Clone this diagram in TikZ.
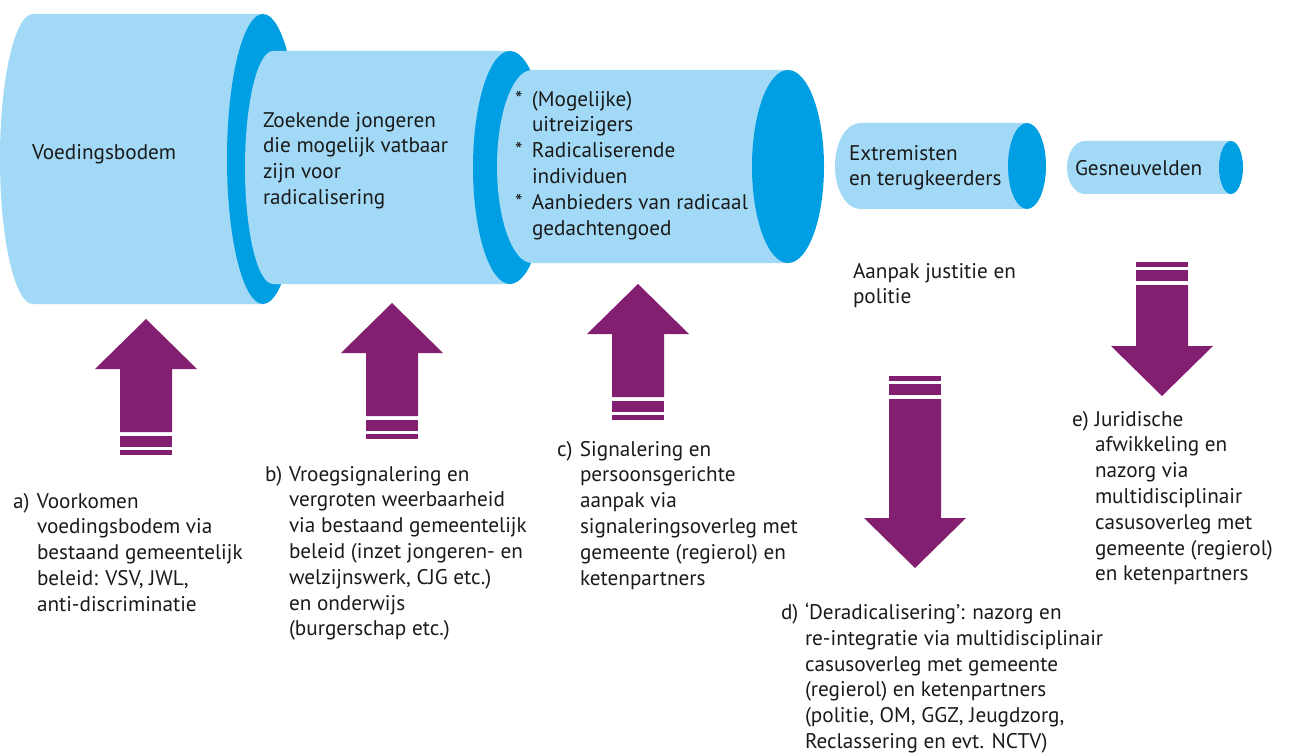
\documentclass[tikz,border=0pt]{standalone}
\usepackage{fontspec}
\setmainfont{PT Sans}
\definecolor{lblue}{RGB}{162,217,246}
\definecolor{dblue}{RGB}{0,159,227}
\definecolor{purp}{RGB}{130,31,112}
\definecolor{txt}{RGB}{26,26,26}
\newcommand\mycyl[6]{% cxL, cxR, cy, ry, rxL, rxR
  \fill[lblue] (#1,#3-#4) -- (#2,#3-#4) -- (#2,#3+#4) -- (#1,#3+#4)
    arc[start angle=90,end angle=270,x radius=#5,y radius=#4] -- cycle;
  \fill[dblue] (#2,#3) ellipse[x radius=#6,y radius=#4];}
\newcommand\myuparr[2]{% cx, tip
  \fill[purp] (#1,#2) -- (#1+51,#2+50) -- (#1+26,#2+50) -- (#1+26,#2+113)
    -- (#1-26,#2+113) -- (#1-26,#2+50) -- (#1-51,#2+50) -- cycle;
  \fill[purp] (#1-26,#2+117) rectangle (#1+26,#2+128);
  \fill[purp] (#1-26,#2+131) rectangle (#1+26,#2+136);}
\newcommand\mydnarr[3]{% cx, stripe top, head base
  \fill[purp] (#1-26,#2) rectangle (#1+26,#2+5);
  \fill[purp] (#1-26,#2+8) rectangle (#1+26,#2+19);
  \fill[purp] (#1-26,#2+23) -- (#1+26,#2+23) -- (#1+26,#3) -- (#1+51,#3)
    -- (#1,#3+50) -- (#1-51,#3) -- (#1-26,#3) -- cycle;}
\newcommand\lab[2]{\makebox[#1][l]{#2}}
\begin{document}
\begin{tikzpicture}[x=1pt,y=-1pt,
  every node/.style={inner sep=0pt, outer sep=0pt, text=txt,
    font=\fontsize{21.2}{25.8}\selectfont},
  blk/.style={anchor=north west, align=left}]
\useasboundingbox (0,0) rectangle (1290,754);
% cylinders
\mycyl{33}{263}{159}{145}{33}{36}
\mycyl{273}{510}{167.5}{116.5}{28}{37}
\mycyl{532}{788}{166.5}{96.5}{35}{36}
\mycyl{860}{1027}{166}{43}{25}{19}
\mycyl{1085}{1231}{167.5}{26.5}{18}{12}
% arrows
\myuparr{146}{319}
\myuparr{392}{303}
\myuparr{638}{284}
\mydnarr{915}{376}{518}
\mydnarr{1162}{262}{346}
% cylinder texts
\node[anchor=west] (t1) at (32,154) {Voedingsbodem};
\node[blk] (t2) at (263,112) {Zoekende jongeren\\die mogelijk vatbaar\\zijn voor\\radicalisering};
\node[blk] (t3) at (515,91) {\lab{17pt}{*}(Mogelijke)\\\hspace*{17pt}uitreizigers\\\lab{17pt}{*}Radicaliserende\\\hspace*{17pt}individuen\\\lab{17pt}{*}Aanbieders van radicaal\\\hspace*{17pt}gedachtengoed};
\node[blk] (t4) at (849,145) {Extremisten\\en terugkeerders};
\node[anchor=west] (t5) at (1075,168) {Gesneuvelden};
\node[blk] (t6) at (853,263) {Aanpak justitie en\\politie};
% lettered texts
\node[blk] (ta) at (13,493) {\lab{24pt}{a)}Voorkomen\\\hspace*{24pt}voedingsbodem via\\\hspace*{24pt}bestaand gemeentelijk\\\hspace*{24pt}beleid: VSV, JWL,\\\hspace*{24pt}anti-discriminatie};
\node[blk] (tb) at (265,466) {\lab{24pt}{b)}Vroegsignalering en\\\hspace*{24pt}vergroten weerbaarheid\\\hspace*{24pt}via bestaand gemeentelijk\\\hspace*{24pt}beleid (inzet jongeren- en\\\hspace*{24pt}welzijnswerk, CJG etc.)\\\hspace*{24pt}en onderwijs\\\hspace*{24pt}(burgerschap etc.)};
\node[blk] (tc) at (557,441) {\lab{23pt}{c)}Signalering en\\\hspace*{23pt}persoonsgerichte\\\hspace*{23pt}aanpak via\\\hspace*{23pt}signaleringsoverleg met\\\hspace*{23pt}gemeente (regierol) en\\\hspace*{23pt}ketenpartners};
\node[blk] (td) at (781,603) {\lab{24pt}{d)}‘Deradicalisering’: nazorg en\\\hspace*{24pt}re-integratie via multidisciplinair\\\hspace*{24pt}casusoverleg met gemeente\\\hspace*{24pt}(regierol) en ketenpartners\\\hspace*{24pt}(politie, OM, GGZ, Jeugdzorg,\\\hspace*{24pt}Reclassering en evt. NCTV)};
\node[blk] (te) at (1072,411) {\lab{23pt}{e)}Juridische\\\hspace*{23pt}afwikkeling en\\\hspace*{23pt}nazorg via\\\hspace*{23pt}multidisciplinair\\\hspace*{23pt}casusoverleg met\\\hspace*{23pt}gemeente (regierol)\\\hspace*{23pt}en ketenpartners};
\end{tikzpicture}
\end{document}
